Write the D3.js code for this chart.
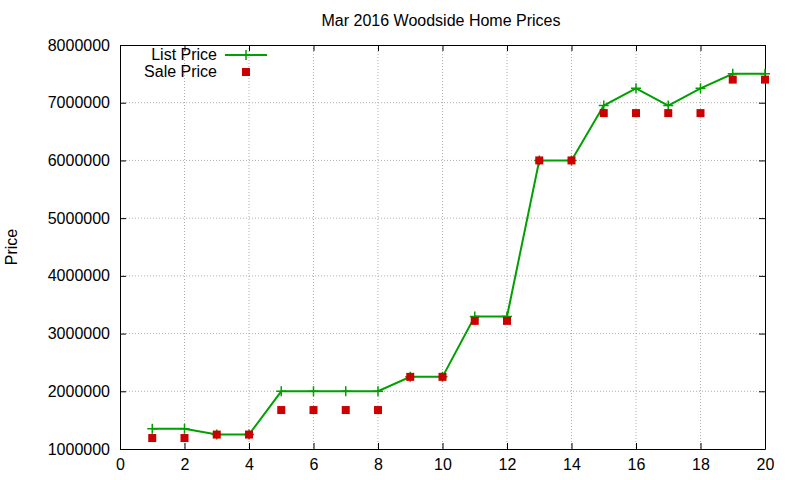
<!DOCTYPE html>
<html><head><meta charset="utf-8">
<script src="https://cdn.jsdelivr.net/npm/d3@7"></script>
<style>body{margin:0;background:#fff}text{font-family:"Liberation Sans",Arial,sans-serif}</style>
</head><body><svg id="c" width="800" height="480"></svg>
<script>
const houses = d3.range(1, 21);
const listPrice = [1350000,1350000,1250000,1250000,2000000,2000000,2000000,2000000,2250000,2250000,3295000,3295000,6000000,6000000,6950000,7250000,6950000,7250000,7500000,7500000];
const salePrice = [1190000,1190000,1250000,1250000,1675000,1675000,1675000,1675000,2250000,2250000,3220000,3220000,6000000,6000000,6820000,6820000,6820000,6820000,7400000,7400000];
const xTicks = [0,2,4,6,8,10,12,14,16,18,20];
const yTicks = [1000000,2000000,3000000,4000000,5000000,6000000,7000000,8000000];

const svg = d3.select("#c");
const L=120,R=765,T=45,B=449;
const x = d3.scaleLinear().domain([0,20]).range([L,R]);
const y = d3.scaleLinear().domain([1000000,8000000]).range([B,T]);
const g = svg.append("g");
g.selectAll(".gx").data(xTicks.slice(1,-1)).join("line").attr("x1",d=>x(d)).attr("x2",d=>x(d)).attr("y1",T).attr("y2",B).attr("stroke","#999").attr("stroke-dasharray","1,2").attr("stroke-width",0.8);
g.selectAll(".gy").data(yTicks.slice(1,-1)).join("line").attr("y1",d=>y(d)).attr("y2",d=>y(d)).attr("x1",L).attr("x2",R).attr("stroke","#999").attr("stroke-dasharray","1,2").attr("stroke-width",0.8);
const xa = svg.append("g").attr("transform",`translate(0,${B})`).call(d3.axisBottom(x).tickValues(xTicks).tickSizeInner(-6).tickSizeOuter(0).tickPadding(10));
const xt = svg.append("g").attr("transform",`translate(0,${T})`).call(d3.axisTop(x).tickValues(xTicks).tickSizeInner(-6).tickSizeOuter(0).tickFormat(""));
const ya = svg.append("g").attr("transform",`translate(${L},0)`).call(d3.axisLeft(y).tickValues(yTicks).tickSizeInner(-6).tickSizeOuter(0).tickPadding(10).tickFormat(d3.format("d")));
const yr = svg.append("g").attr("transform",`translate(${R},0)`).call(d3.axisRight(y).tickValues(yTicks).tickSizeInner(-6).tickSizeOuter(0).tickFormat(""));
[xa,xt,ya,yr].forEach(a=>{a.selectAll("text").attr("font-size",16).attr("fill","#000").style("font-family","Liberation Sans, Arial");a.select(".domain").attr("stroke","#000");a.selectAll(".tick line").attr("stroke","#000");});
svg.append("text").attr("x",441).attr("y",26).attr("text-anchor","middle").attr("font-size",16).text("Mar 2016 Woodside Home Prices");
svg.append("text").attr("transform","translate(17,247) rotate(-90)").attr("text-anchor","middle").attr("font-size",16).text("Price");
const green="#00a000";
svg.append("path").datum(listPrice).attr("fill","none").attr("stroke",green).attr("stroke-width",2)
 .attr("d",d3.line().x((d,i)=>x(houses[i])).y(d=>y(d)));
function plus(sel,cx,cy){sel.append("path").attr("d",`M${cx-5},${cy}h10M${cx},${cy-5}v10`).attr("stroke",green).attr("stroke-width",1.5);}
listPrice.forEach((d,i)=>plus(svg,x(houses[i]),y(d)));
svg.selectAll(".sp").data(salePrice).join("rect").attr("x",(d,i)=>x(houses[i])-4).attr("y",d=>y(d)-4).attr("width",8).attr("height",8).attr("fill","#cc0000");
svg.append("text").attr("x",217).attr("y",60).attr("text-anchor","end").attr("font-size",16).text("List Price");
svg.append("line").attr("x1",225).attr("x2",267).attr("y1",55).attr("y2",55).attr("stroke",green).attr("stroke-width",2);
plus(svg,246,55);
svg.append("text").attr("x",217).attr("y",77).attr("text-anchor","end").attr("font-size",16).text("Sale Price");
svg.append("rect").attr("x",242).attr("y",68).attr("width",8).attr("height",8).attr("fill","#cc0000");
</script></body></html>
